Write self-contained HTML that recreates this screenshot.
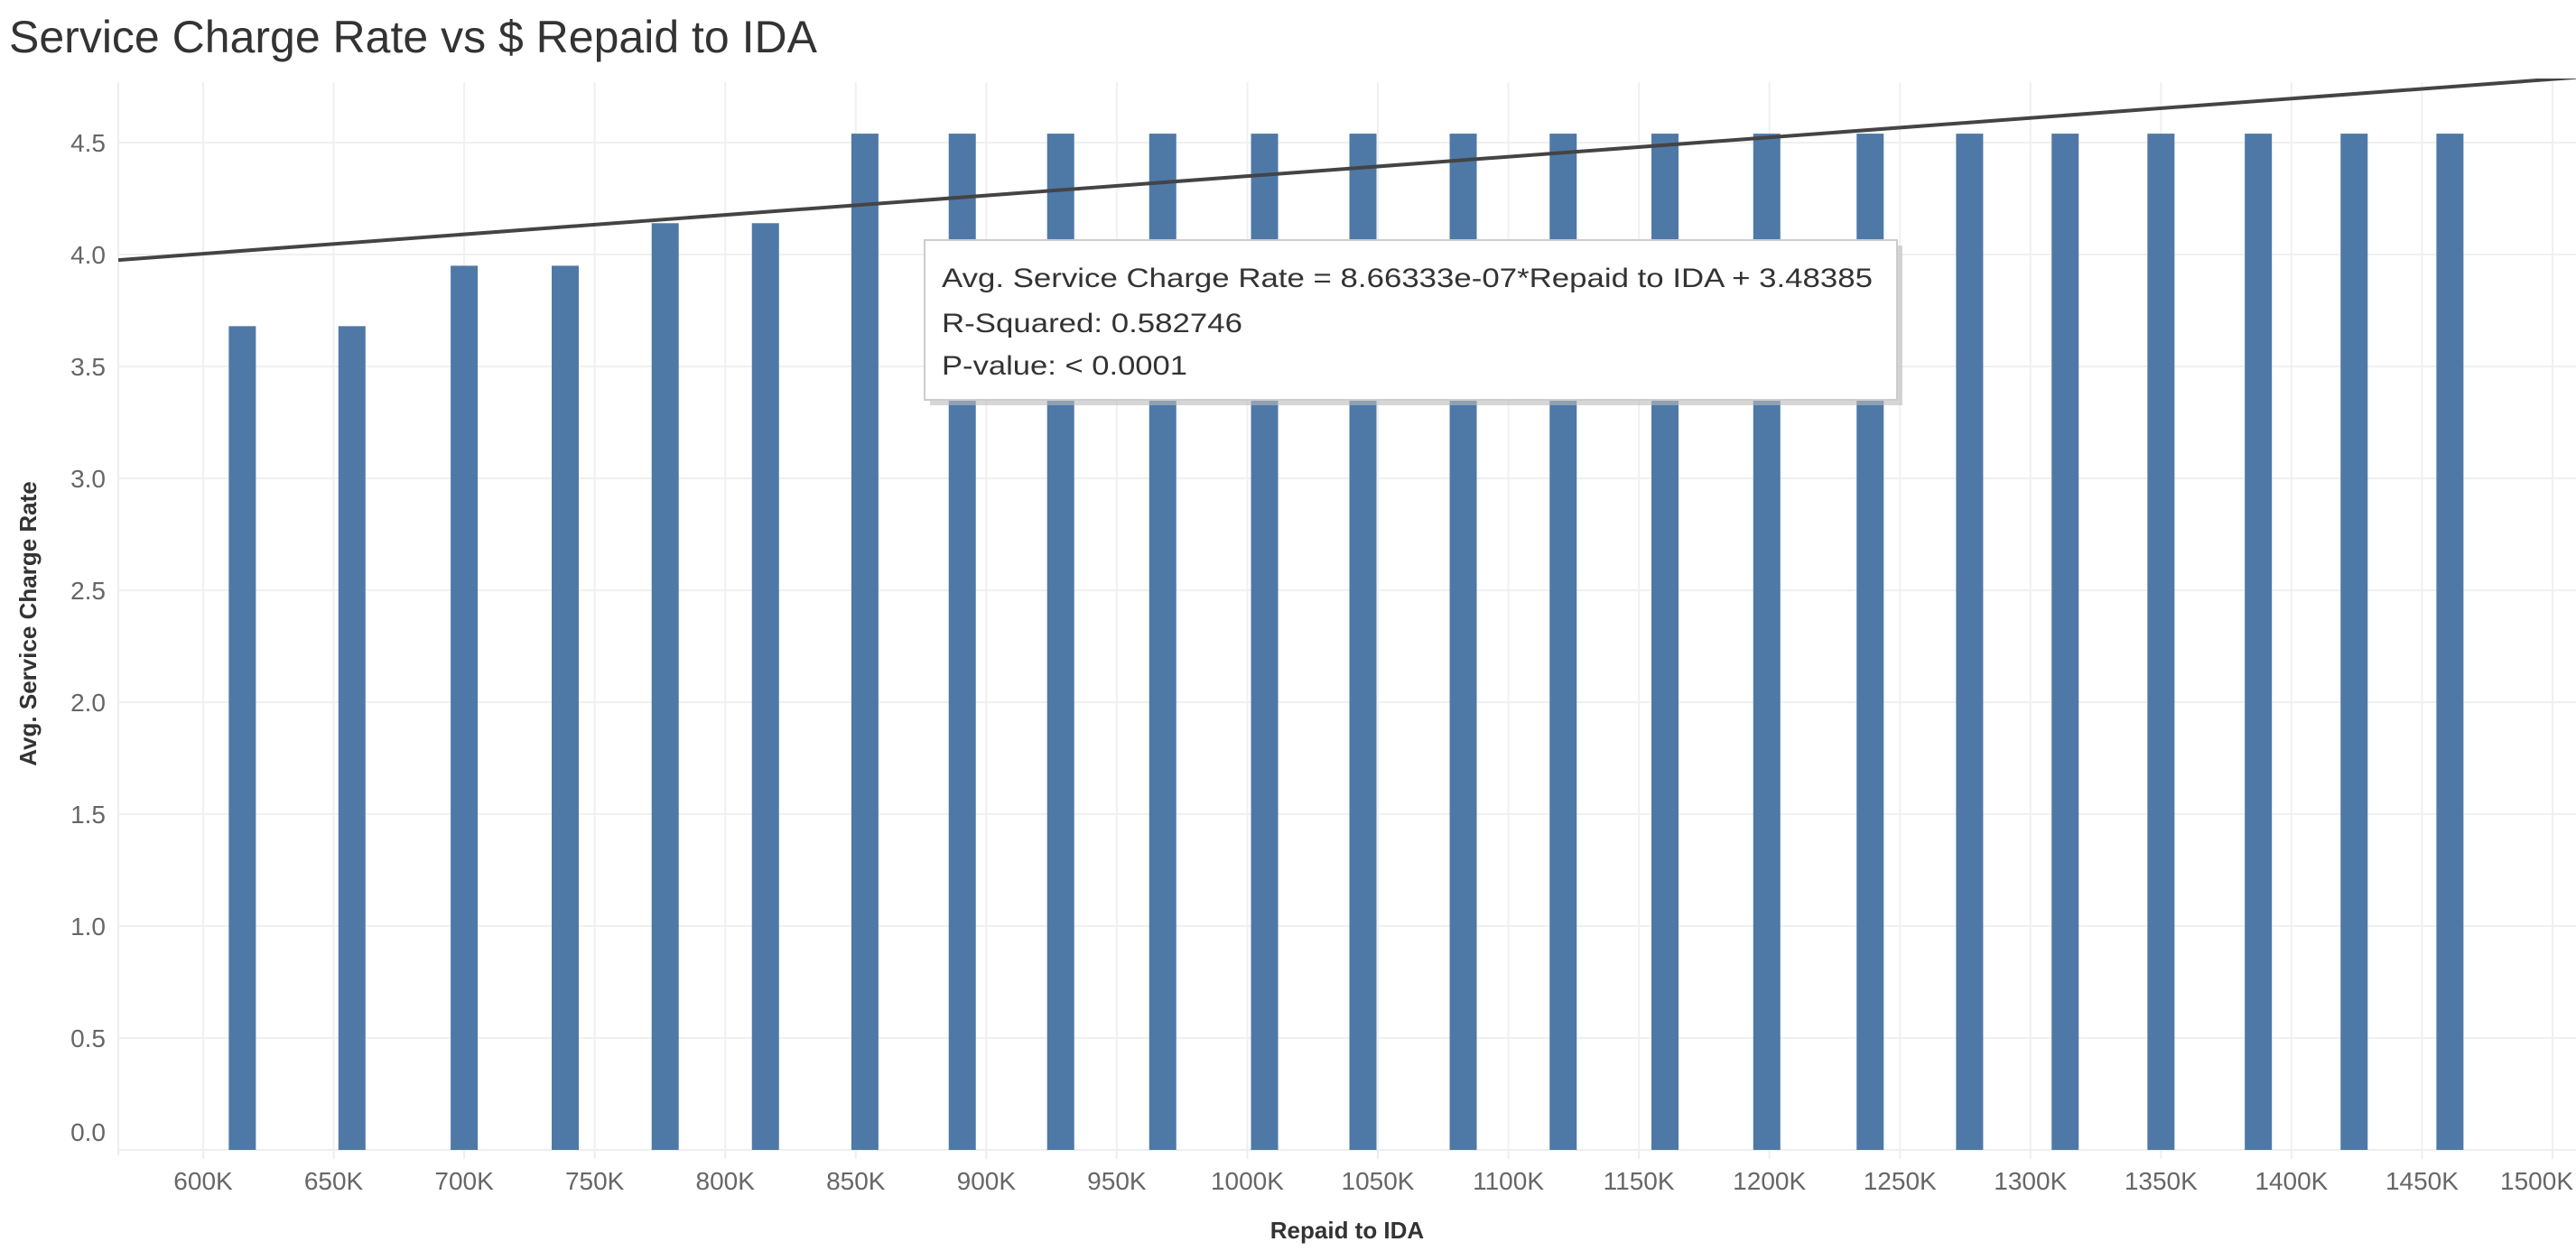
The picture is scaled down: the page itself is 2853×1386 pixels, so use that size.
<!DOCTYPE html>
<html><head><meta charset="utf-8"><style>
html,body{margin:0;padding:0;background:#fff;}
svg{display:block;font-family:"Liberation Sans",sans-serif;}
</style></head><body>
<svg id="chart" width="2853" height="1386" viewBox="0 0 2853 1386" xmlns="http://www.w3.org/2000/svg">
<text x="10" y="58" font-size="50" fill="#333" textLength="895" lengthAdjust="spacingAndGlyphs">Service Charge Rate vs $ Repaid to IDA</text>
<g id="grid"></g>
<g id="bars"></g>
<g id="trend"></g>
<g id="yaxis"></g>
<g id="xaxis"></g>
<text transform="translate(40,691) rotate(-90)" text-anchor="middle" font-size="26" font-weight="bold" fill="#333">Avg. Service Charge Rate</text>
<text x="1492" y="1372" text-anchor="middle" font-size="26" font-weight="bold" fill="#333">Repaid to IDA</text>
<g>
<rect x="1030" y="272" width="1077" height="177" fill="#bbb" opacity="0.6"/>
<rect x="1024" y="266" width="1077" height="177" fill="#fff" stroke="#ccc" stroke-width="2"/>
<text x="1043" y="318" font-size="30" fill="#333" textLength="1031" lengthAdjust="spacingAndGlyphs">Avg. Service Charge Rate = 8.66333e-07*Repaid to IDA + 3.48385</text>
<text x="1043" y="368" font-size="30" fill="#333" textLength="333" lengthAdjust="spacingAndGlyphs">R-Squared: 0.582746</text>
<text x="1043" y="415" font-size="30" fill="#333" textLength="272" lengthAdjust="spacingAndGlyphs">P-value: &lt; 0.0001</text>
</g>
</svg>
<script>
const repaid = [615000,657000,700000,738700,777000,815400,853500,890800,928500,967600,1006600,1044300,1082700,1121000,1160000,1199000,1238600,1276700,1313300,1350000,1387300,1424000,1460700];
const rates = [3.68,3.68,3.95,3.95,4.14,4.14,4.54,4.54,4.54,4.54,4.54,4.54,4.54,4.54,4.54,4.54,4.54,4.54,4.54,4.54,4.54,4.54,4.54];
const xTicks = [600000,650000,700000,750000,800000,850000,900000,950000,1000000,1050000,1100000,1150000,1200000,1250000,1300000,1350000,1400000,1450000,1500000];
const xTickLabels = ["600K","650K","700K","750K","800K","850K","900K","950K","1000K","1050K","1100K","1150K","1200K","1250K","1300K","1350K","1400K","1450K","1500K"];
const yTicks = [0,0.5,1,1.5,2,2.5,3,3.5,4,4.5];
const yTickLabels = ["0.0","0.5","1.0","1.5","2.0","2.5","3.0","3.5","4.0","4.5"];
const trendSlope = 8.66333e-7;
const trendIntercept = 3.48385;

const NS="http://www.w3.org/2000/svg";
const L=131,R=2853,T=91,B=1274;
const xs=v=>225+(v-600000)*(2602/900000);
const ys=v=>B-v*248;
function mk(tag,attrs,parent){const e=document.createElementNS(NS,tag);for(const k in attrs)e.setAttribute(k,attrs[k]);parent.appendChild(e);return e;}
const grid=document.getElementById('grid'),bars=document.getElementById('bars'),trend=document.getElementById('trend'),ya=document.getElementById('yaxis'),xa=document.getElementById('xaxis');
mk('line',{x1:L,x2:L,y1:T,y2:B+6,stroke:'#eee','stroke-width':2},grid);
yTicks.forEach((t,i)=>{
  const g=mk('line',{x1:L,x2:R,y1:ys(t),y2:ys(t),stroke:'#f0f0f0','stroke-width':2},grid);
  
  
  const tx=mk('text',{x:117,y:ys(t)+10-(i===0?20:0),'text-anchor':'end','font-size':28,fill:'#666'},ya);
  tx.textContent=yTickLabels[i];
  
  
});
xTicks.forEach((t,i)=>{
  const g=mk('line',{x1:xs(t),x2:xs(t),y1:T,y2:B,stroke:'#f0f0f0','stroke-width':2},grid);
  
  
  const tk=mk('line',{x1:xs(t),x2:xs(t),y1:B,y2:B+10,stroke:'#eee','stroke-width':2},xa);
  
  
  const last=i===xTicks.length-1;
  const tx=mk('text',{x:last?2850:xs(t),y:1318,'text-anchor':last?'end':'middle','font-size':28,fill:'#666'},xa);
  tx.textContent=xTickLabels[i];
  
  
});
mk('line',{x1:L,x2:R,y1:B,y2:B,stroke:'#eee','stroke-width':2},grid);
repaid.forEach((v,i)=>{
  const b=mk('rect',{x:xs(v)-15,y:ys(rates[i]),width:30,height:B-ys(rates[i]),fill:'#4e79a7'},bars);
  
  
});
const x0=(L-225)/(2602/900000)+600000, x1=1530000;
const cp=mk('clipPath',{id:'pc'},trend);mk('rect',{x:L,y:T-4,width:R-L,height:B-T+4},cp);
const tl=mk('line',{x1:xs(x0),y1:ys(trendSlope*x0+trendIntercept),x2:xs(x1),y2:ys(trendSlope*x1+trendIntercept),stroke:'#444','stroke-width':4,'clip-path':'url(#pc)'},trend);


</script>
</body></html>
